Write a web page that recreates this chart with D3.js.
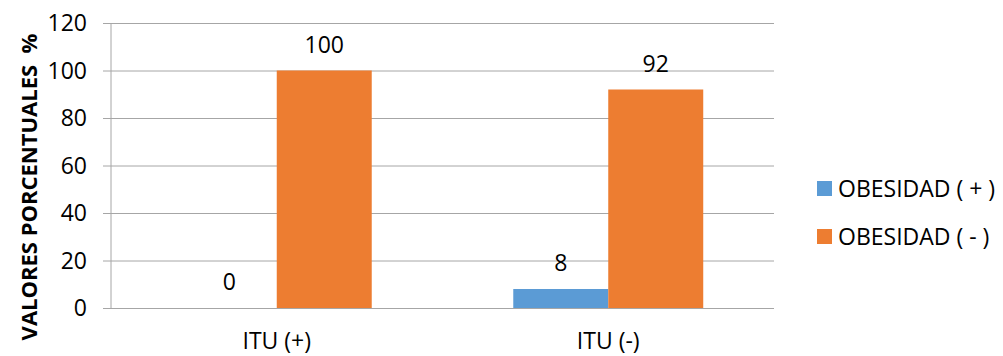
<!DOCTYPE html>
<html>
<head>
<meta charset="utf-8">
<script src="https://cdn.jsdelivr.net/npm/d3@7"></script>
<style>
  html, body { margin: 0; padding: 0; background: #fff; }
  svg text { font-family: "Open Sans", "Noto Sans", sans-serif; fill: #000; }
</style>
</head>
<body>
<svg id="chart" width="1003" height="356"></svg>
<script>
// Categories, series and values
const categories = ["ITU (+)", "ITU (-)"];
const seriesNames = ["OBESIDAD ( + )", "OBESIDAD ( - )"];
const obesidadPos = [0, 8];
const obesidadNeg = [100, 92];
const yTicks = [0, 20, 40, 60, 80, 100, 120];
const colors = ["#5B9BD5", "#ED7D31"];

const seriesValues = [obesidadPos, obesidadNeg];

const svg = d3.select("#chart");
const plot = { left: 111, right: 774, top: 23, bottom: 308 };
const fontSize = "23px";

const y = d3.scaleLinear().domain([0, 120]).range([plot.bottom, plot.top]);
const x0 = d3.scaleBand().domain(categories).range([plot.left, plot.right]).padding(0);
const x1 = d3.scaleBand().domain(seriesNames).range([0, x0.bandwidth()])
  .paddingInner(0).paddingOuter(0.745);

// Horizontal gridlines with short tick stubs left of the axis
const gy = svg.append("g").attr("transform", `translate(${plot.right},0)`);
gy.call(d3.axisLeft(y).tickValues(yTicks).tickSize(plot.right - plot.left + 8).tickFormat(""));
gy.select(".domain").remove();
gy.selectAll(".tick line").attr("stroke", "#a6a6a6").attr("stroke-width", 1);

// Tick labels
svg.append("g").selectAll("text").data(yTicks).join("text")
  .attr("x", 87).attr("y", d => y(d)).attr("dy", "0.35em")
  .attr("text-anchor", "end").style("font-size", fontSize).text(d => d);

// Vertical axis line
svg.append("line").attr("x1", plot.left).attr("x2", plot.left)
  .attr("y1", plot.top).attr("y2", plot.bottom)
  .attr("stroke", "#a6a6a6").attr("stroke-width", 1);

// Bars
const groups = svg.append("g").selectAll("g").data(categories).join("g")
  .attr("transform", d => `translate(${x0(d)},0)`);

const barData = (c, i) => seriesNames.map((s, k) => ({ s, k, v: seriesValues[k][i] }));

groups.selectAll("rect").data(barData)
  .join("rect")
  .attr("x", d => x1(d.s)).attr("width", x1.bandwidth())
  .attr("y", d => y(d.v)).attr("height", d => y(0) - y(d.v))
  .attr("fill", d => colors[d.k]);

// Value labels above bars
groups.selectAll("text").data(barData)
  .join("text")
  .attr("x", d => x1(d.s) + x1.bandwidth() / 2)
  .attr("y", d => y(d.v) - 18)
  .attr("text-anchor", "middle").style("font-size", fontSize)
  .text(d => d.v);

// Category labels
svg.append("g").selectAll("text").data(categories).join("text")
  .attr("x", d => x0(d) + x0.bandwidth() / 2).attr("y", 349)
  .attr("text-anchor", "middle").style("font-size", fontSize).text(d => d);

// Y axis title
svg.append("text")
  .attr("transform", "translate(37,187) rotate(-90)")
  .attr("text-anchor", "middle")
  .style("font-size", "22px").style("font-weight", "bold").style("white-space", "pre")
  .text("VALORES PORCENTUALES  %");

// Legend
const legend = svg.append("g").selectAll("g").data(seriesNames).join("g")
  .attr("transform", (d, i) => `translate(817,${181 + i * 48})`);
legend.append("rect").attr("width", 15).attr("height", 15).attr("fill", (d, i) => colors[i]);
legend.append("text").attr("x", 21).attr("y", 16).style("font-size", fontSize).text(d => d);
</script>
</body>
</html>
